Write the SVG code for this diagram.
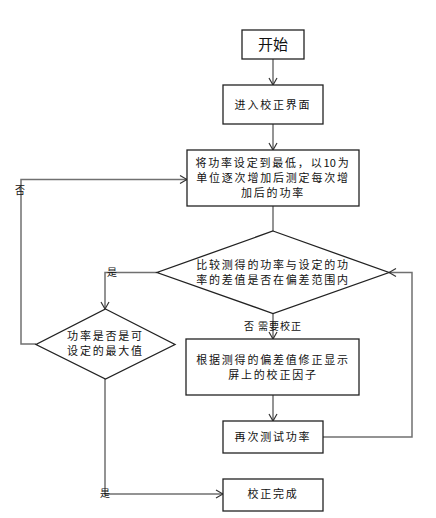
<svg xmlns="http://www.w3.org/2000/svg" width="436" height="518" viewBox="0 0 436 518">
<defs>
<marker id="arr" viewBox="0 0 10 10" refX="9" refY="5" markerWidth="10" markerHeight="10" markerUnits="userSpaceOnUse" orient="auto">
<path d="M2,1 L9,5 L2,9" fill="none" stroke="#333" stroke-width="1.2"/>
</marker>
<style>
.n{fill:#fff;stroke:#222;stroke-width:1.3}
.t{font-family:"Noto Sans CJK SC","Noto Sans",sans-serif;font-size:11px;letter-spacing:1.8px;fill:#111;text-anchor:middle}
.l{font-family:"Noto Sans CJK SC","Noto Sans",sans-serif;font-size:10px;fill:#111;text-anchor:middle}
.c{fill:none;stroke:#707070;stroke-width:1.5}
</style>
</defs>
<rect width="436" height="518" fill="#fff"/>
<g id="connectors">
<path class="c" d="M273,59 V85" marker-end="url(#arr)"/>
<path class="c" d="M273,124 V150" marker-end="url(#arr)"/>
<path class="c" d="M273,206 V231"/>
<path class="c" d="M157,272.5 H105 V309" marker-end="url(#arr)"/>
<path class="c" d="M273,313.5 V339" marker-end="url(#arr)"/>
<path class="c" d="M36,344 H21 V179.5 H187" marker-end="url(#arr)"/>
<path class="c" d="M105,379 V494 H223" marker-end="url(#arr)"/>
<path class="c" d="M273,395 V421" marker-end="url(#arr)"/>
<path class="c" d="M323,437 H412 V272.5 H389" marker-end="url(#arr)"/>
<text class="l" x="20" y="194">否</text>
<text class="l" x="112" y="276">是</text>
<text class="l" x="249" y="330">否</text>
<text class="l" x="280" y="330" style="letter-spacing:1px">需要校正</text>
<text class="l" x="105" y="497">是</text>
</g>
<g id="start">
<rect class="n" x="242" y="30" width="62" height="29"/>
<text class="t" x="273" y="49.5" style="font-size:15px;letter-spacing:0">开始</text>
</g>
<g id="enter">
<rect class="n" x="223" y="85" width="100" height="39"/>
<text class="t" x="273" y="109">进入校正界面</text>
</g>
<g id="setpower">
<rect class="n" x="187" y="150" width="172" height="56"/>
<text class="t" x="273" y="167">将功率设定到最低，以<tspan style="letter-spacing:0.3px">1</tspan>0为</text>
<text class="t" x="273" y="182">单位逐次增加后测定每次增</text>
<text class="t" x="273" y="197">加后的功率</text>
</g>
<g id="compare">
<polygon class="n" points="273,231 389,272.5 273,313.5 157,272.5"/>
<text class="t" x="273" y="268.5">比较测得的功率与设定的功</text>
<text class="t" x="273" y="283.5">率的差值是否在偏差范围内</text>
</g>
<g id="ismax">
<polygon class="n" points="105.5,309 175,344.5 105.5,379 36,344.5"/>
<text class="t" x="105.5" y="340">功率是否是可</text>
<text class="t" x="105.5" y="355">设定的最大值</text>
</g>
<g id="correct">
<rect class="n" x="186" y="339" width="173" height="56"/>
<text class="t" x="273" y="364">根据测得的偏差值修正显示</text>
<text class="t" x="273" y="379">屏上的校正因子</text>
</g>
<g id="retest">
<rect class="n" x="223" y="421" width="100" height="32"/>
<text class="t" x="273" y="441">再次测试功率</text>
</g>
<g id="done">
<rect class="n" x="223" y="479" width="100" height="32"/>
<text class="t" x="273" y="498">校正完成</text>
</g>
</svg>
